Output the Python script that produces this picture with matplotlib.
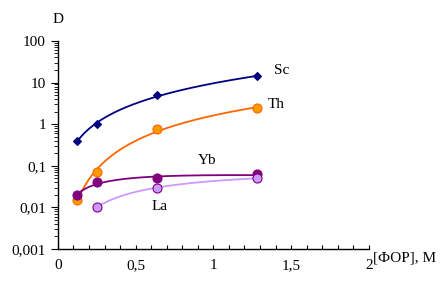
import numpy as np
import matplotlib
matplotlib.use("Agg")
from matplotlib import pyplot as plt
from matplotlib.ticker import MultipleLocator, LogLocator, NullFormatter

plt.rcParams['font.family'] = ['Liberation Serif', 'DejaVu Serif']

x_sc = [0.125, 0.25, 0.64, 1.28]
d_sc = [0.4, 1.0, 5.0, 14.0]
x_th = [0.125, 0.25, 0.64, 1.28]
d_th = [0.015, 0.07, 0.78, 2.4]
x_yb = [0.125, 0.25, 0.64, 1.28]
d_yb = [0.02, 0.04, 0.05, 0.062]
x_la = [0.25, 0.64, 1.28]
d_la = [0.01, 0.03, 0.05]

series = [
    ("Sc", x_sc, d_sc, "#000080", "D", "#000080"),
    ("Th", x_th, d_th, "#ff6600", "o", "#ff9900"),
    ("Yb", x_yb, d_yb, "#800080", "o", "#800080"),
    ("La", x_la, d_la, "#cc99ff", "o", "#cc99ff"),
]
label_pos = {"Sc": (1.39, 19), "Th": (1.35, 3.0), "Yb": (0.9, 0.135), "La": (0.6, 0.0105)}

fig = plt.figure(figsize=(4.45, 2.82), dpi=100)
ax = fig.add_axes([0.130, 0.117, 0.699, 0.738])

for name, xs, ds, lc, mk, fc in series:
    lx = np.log10(xs)
    ly = np.log10(ds)
    coef = np.polyfit(lx, ly, 2)
    xx = np.linspace(min(xs), max(xs), 200)
    yy = 10 ** np.polyval(coef, np.log10(xx))
    ax.plot(xx, yy, color=lc, lw=1.3, zorder=2)
    ec = "#800080" if name == "La" else lc
    ms = 4.5 if mk == "D" else 6.5
    ax.plot(xs, ds, linestyle="none", marker=mk, ms=ms, mfc=fc, mec=ec, mew=0.8, zorder=3)
    ax.text(*label_pos[name], name, fontsize=11, ha="left", va="center")

ax.set_yscale("log")
ax.set_xlim(0, 2)
ax.set_ylim(0.001, 100)
ax.set_xticks([0, 0.5, 1, 1.5, 2])
ax.set_xticklabels(["0", "0,5", "1", "1,5", "2"])
ax.xaxis.set_minor_locator(MultipleLocator(0.1))
ax.set_yticks([0.001, 0.01, 0.1, 1, 10, 100])
ax.set_yticklabels(["0,001", "0,01", "0,1", "1", "10", "100"])
ax.yaxis.set_minor_locator(LogLocator(base=10, subs=np.arange(2, 10)))
ax.yaxis.set_minor_formatter(NullFormatter())

ax.tick_params(axis="x", which="both", direction="in", length=3, width=0.8, labelsize=11, pad=7)
ax.tick_params(axis="y", which="major", direction="out", length=5, width=0.8, labelsize=11)
ax.tick_params(axis="y", which="minor", direction="out", length=3, width=0.6)
for s in ["top", "right"]:
    ax.spines[s].set_visible(False)
for s in ["left", "bottom"]:
    ax.spines[s].set_linewidth(1.0)

ax.text(0.0, 1.105, "D", transform=ax.transAxes, fontsize=11, ha="center", va="center")
ax.text(1.012, -0.045, "[ФОР], М", transform=ax.transAxes, fontsize=11, ha="left", va="center")

fig.savefig("out.png", dpi=100)
